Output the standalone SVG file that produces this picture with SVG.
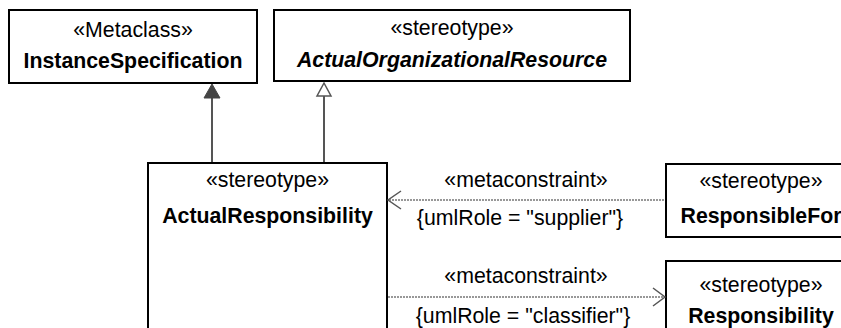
<svg xmlns="http://www.w3.org/2000/svg" width="841" height="328" viewBox="0 0 841 328">
<style>
.box{fill:#fff;stroke:#000;stroke-width:2}
text{font-family:"Liberation Sans",Arial,sans-serif;font-size:21.3px;fill:#000;text-anchor:middle}
.b{font-weight:bold}
.bi{font-weight:bold;font-style:italic}
.gen{stroke:#555;stroke-width:2;fill:none}
.dep{stroke:#777;stroke-width:1.3;stroke-dasharray:2,1;fill:none}
.open{stroke:#555;stroke-width:1.5;fill:none}
</style>
<rect width="841" height="328" fill="#fff"/>
<g id="InstanceSpecification">
<rect class="box" x="9" y="10" width="248" height="73"/>
<text x="133" y="37">«Metaclass»</text>
<text class="b" x="133" y="68">InstanceSpecification</text>
</g>
<g id="ActualOrganizationalResource">
<rect class="box" x="274" y="10" width="356" height="71"/>
<text x="452" y="35">«stereotype»</text>
<text class="bi" x="452" y="67">ActualOrganizationalResource</text>
</g>
<g id="ActualResponsibility">
<rect class="box" x="148" y="163" width="239" height="180"/>
<text x="267.5" y="187">«stereotype»</text>
<text class="b" x="267.5" y="223">ActualResponsibility</text>
</g>
<g id="ResponsibleFor">
<rect class="box" x="666" y="164" width="190" height="73"/>
<text x="761" y="188">«stereotype»</text>
<text class="b" x="761" y="223">ResponsibleFor</text>
</g>
<g id="Responsibility">
<rect class="box" x="666" y="261" width="190" height="80"/>
<text x="761" y="292">«stereotype»</text>
<text class="b" x="761" y="323">Responsibility</text>
</g>
<g id="connectors">
<line class="gen" x1="212" y1="162" x2="212" y2="97"/>
<polygon points="212,84 204,98 220,98" fill="#444" stroke="#444" stroke-width="1"/>
<line class="gen" x1="324" y1="162" x2="324" y2="96"/>
<polygon points="324,83 317,96 331,96" fill="#fff" stroke="#555" stroke-width="1.5"/>
<line class="dep" x1="389" y1="200" x2="665" y2="200"/>
<polyline class="open" points="401,191 388,200 401,209"/>
<text x="526" y="187">«metaconstraint»</text>
<text x="520" y="225">{umlRole = "supplier"}</text>
<line class="dep" x1="388" y1="297" x2="664" y2="297"/>
<polyline class="open" points="653,288 665,297 653,306"/>
<text x="526" y="283">«metaconstraint»</text>
<text x="523" y="323">{umlRole = "classifier"}</text>
</g>
</svg>
